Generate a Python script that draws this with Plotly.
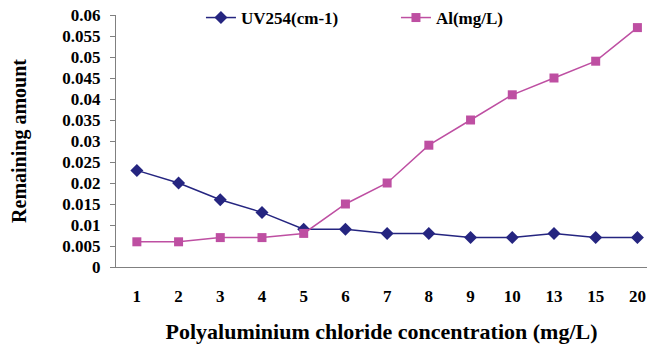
import plotly.graph_objects as go

categories = ["1", "2", "3", "4", "5", "6", "7", "8", "9", "10", "13", "15", "20"]
uv254 = [0.023, 0.020, 0.016, 0.013, 0.009, 0.009, 0.008, 0.008, 0.007, 0.007, 0.008, 0.007, 0.007]
al = [0.006, 0.006, 0.007, 0.007, 0.008, 0.015, 0.020, 0.029, 0.035, 0.041, 0.045, 0.049, 0.057]
y_ticks = [0, 0.005, 0.01, 0.015, 0.02, 0.025, 0.03, 0.035, 0.04, 0.045, 0.05, 0.055, 0.06]
y_labels = ["0", "0.005", "0.01", "0.015", "0.02", "0.025", "0.03", "0.035", "0.04", "0.045", "0.05", "0.055", "0.06"]

font_fam = "Liberation Serif, Times New Roman, serif"

fig = go.Figure()
fig.add_trace(go.Scatter(
    x=categories, y=uv254, mode="lines+markers", name="<b>UV254(cm-1)</b>",
    line=dict(color="#252580", width=1.5),
    marker=dict(symbol="diamond", size=10, color="#252580"),
))
fig.add_trace(go.Scatter(
    x=categories, y=al, mode="lines+markers", name="<b>Al(mg/L)</b>",
    line=dict(color="#BE4FA2", width=1.5),
    marker=dict(symbol="square", size=9, color="#BE4FA2"),
))

fig.update_layout(
    width=647, height=344,
    margin=dict(l=116, r=0, t=14, b=77),
    plot_bgcolor="white", paper_bgcolor="white",
    font=dict(family=font_fam, color="black"),
    showlegend=True,
    legend=dict(
        orientation="h", x=0.16, y=0.99, xanchor="left", yanchor="middle",
        font=dict(family=font_fam, size=17, color="black"),
        entrywidth=150, entrywidthmode="pixels",
        bgcolor="rgba(0,0,0,0)", itemwidth=30,
    ),
    xaxis=dict(
        type="category", range=[-0.5, 12.23],
        showline=True, linecolor="#808080", linewidth=1,
        ticks="", showgrid=False, zeroline=False, ticklabelstandoff=14,
        tickfont=dict(family=font_fam, size=17, color="black", weight="bold"),
        title=dict(text="<b>Polyaluminium chloride concentration (mg/L)</b>",
                   font=dict(family=font_fam, size=22, color="black"), standoff=18),
    ),
    yaxis=dict(
        range=[0, 0.06], tickvals=y_ticks, ticktext=y_labels,
        showline=True, linecolor="#808080", linewidth=1,
        ticks="outside", ticklen=5, tickcolor="#808080",
        showgrid=False, zeroline=False, ticklabelstandoff=6,
        tickfont=dict(family=font_fam, size=17, color="black", weight="bold"),
        title=dict(text="<b>Remaining amount</b>",
                   font=dict(family=font_fam, size=20, color="black"), standoff=30),
    ),
)

fig.write_html("out.html")
